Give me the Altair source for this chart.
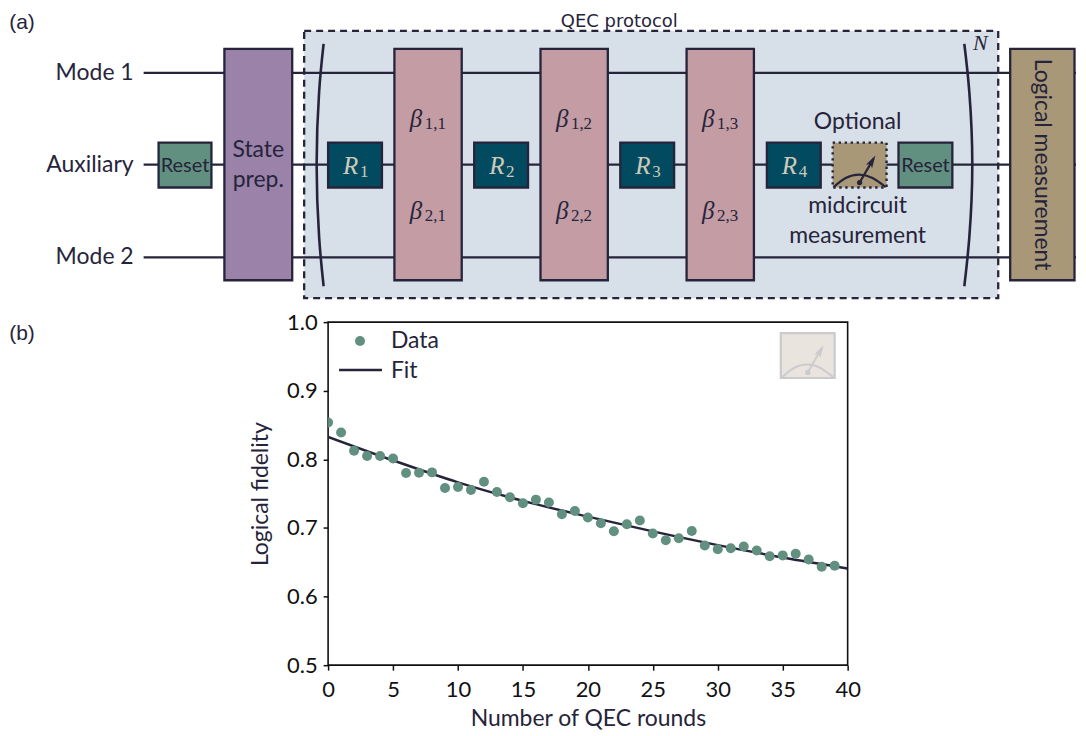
import altair as alt
import pandas as pd

# ---------- values of panel (b) ----------
rounds = list(range(40))
fidelity = [.8536, .839, .8125, .8048, .805, .8013, .780, .7805, .781, .7583,
            .7597, .7553, .7674, .7524, .7447, .736, .7413, .737, .7199, .7248,
            .7151, .7068, .6952, .7054, .7108, .6919, .6822, .685, .6957, .6744,
            .669, .6705, .673, .6672, .6589, .66, .6623, .654, .6434, .6449]
fit_x = [0, 5, 10, 15, 20, 25, 30, 35, 40]
fit_y = [.8328, .7985, .7665, .7395, .7165, .695, .675, .657, .641]
x_ticks = [0, 5, 10, 15, 20, 25, 30, 35, 40]
y_ticks = [.5, .6, .7, .8, .9, 1.0]

# ---------- colours ----------
INK = "#26243a"
GREEN = "#618f80"
TEAL = "#024a60"
PURPLE = "#9a82a9"
PINK = "#c39ca4"
TAN = "#a89878"
PANEL = "#d7dfe8"
CREAM = "#cfcab8"
FAINT = "#e9e5de"
FAINT_INK = "#cbcbcd"
FONT = "Lato"
TAG_FONT = "Liberation Sans"
HEAD_FONT = "DejaVu Sans"
SERIF = "Liberation Serif"
ARROW = "M0,-1L0.55,0.95L0,0.5L-0.55,0.95Z"

# ---------- schematic of panel (a), on a canvas scale ----------
W, H = 1070, 313
sx = alt.Scale(domain=[8, 1078], nice=False, zero=False)
sy = alt.Scale(domain=[321, 8], nice=False, zero=False)

wires = [("Mode 1", 71), ("Auxiliary", 163), ("Mode 2", 256)]
wire_span = (143, 1078)
gates_tall = [(224, 292, PURPLE), (394.5, 462, PINK), (541, 608.5, PINK),
              (687.5, 755, PINK), (1012, 1076.5, TAN)]
gates_small = [(158, 211, GREEN), (328, 382, TEAL), (474.5, 528.5, TEAL),
               (621, 675, TEAL), (768, 822, TEAL), (900, 954, GREEN)]
tall_y = (47, 279)
small_y = (141, 186)
meter_box = (834, 888)
qec_box = (304, 1000, 29, 297)
paren_left = [(323.5, 42), (319, 90), (316.5, 163), (319, 236), (323.5, 285)]
paren_right = [(966, 42), (971, 90), (974, 163), (971, 236), (966, 285)]
arc_pts = [(835, 185.5), (847, 176.5), (860.5, 173), (874, 176.5), (887, 185.5)]
needle = [(861, 181), (875, 157)]
needle_tip = (873.5, 159.5)
beta_cols = [(410, "1"), (556.5, "2"), (703, "3")]


def xa(field):
    return alt.X(field, scale=sx, axis=None)


def ya(field):
    return alt.Y(field, scale=sy, axis=None)


def rects(rows, y0, y1, **kw):
    df = pd.DataFrame(rows, columns=["a", "b", "fill"])
    df["c"], df["d"] = y0, y1
    return alt.Chart(df).mark_rect(**kw).encode(
        x=xa("a:Q"), x2="b:Q", y=ya("c:Q"), y2="d:Q",
        fill=alt.Fill("fill:N", scale=None))


def path(pts, ex, ey, color, width, interp="natural"):
    df = pd.DataFrame({"a": [p[0] for p in pts], "b": [p[1] for p in pts], "o": range(len(pts))})
    return alt.Chart(df).mark_line(color=color, strokeWidth=width, interpolate=interp, clip=False).encode(
        x=ex("a:Q"), y=ey("b:Q"), order="o:Q")


def words(rows, size, color=INK, font=FONT, style="normal", align="center",
          baseline="middle", angle=0, ex=xa, ey=ya):
    df = pd.DataFrame(rows, columns=["a", "b", "t"])
    return alt.Chart(df).mark_text(fontSize=size, color=color, font=font, fontStyle=style, align=align,
                                   baseline=baseline, angle=angle, clip=False).encode(
        x=ex("a:Q"), y=ey("b:Q"), text="t:N")


def dots(pt, ex, ey, color, size, **kw):
    df = pd.DataFrame({"a": [pt[0]], "b": [pt[1]]})
    return alt.Chart(df).mark_point(filled=True, color=color, size=size, opacity=1, **kw).encode(
        x=ex("a:Q"), y=ey("b:Q"))


wire_layers = [
    alt.Chart(pd.DataFrame({"a": [wire_span[0]], "b": [wire_span[1]], "c": [y]})).mark_rule(
        color=INK, strokeWidth=2.3).encode(x=xa("a:Q"), x2="b:Q", y=ya("c:Q"))
    for _, y in wires
]

beta_main, beta_sub = [], []
for xb, col in beta_cols:
    for row, yb in (("1", 125), ("2", 217.5)):
        beta_main.append((xb, yb, "β"))
        beta_sub.append((xb + 15, yb + 2, f"{row},{col}"))

r_main = [(343 + d, 172, "R") for d in (0, 146.5, 293, 440)]
r_sub = [(360 + d, 175, str(i + 1)) for i, d in enumerate((0, 146.5, 293, 440))]

stroke = dict(stroke=INK, strokeWidth=2.3)
top = alt.layer(
    rects([(qec_box[0], qec_box[1], PANEL)], qec_box[2], qec_box[3], stroke=INK, strokeWidth=2.3, strokeDash=[7, 5]),
    *wire_layers,
    rects(gates_tall, *tall_y, **stroke),
    rects(gates_small, *small_y, **stroke),
    rects([(meter_box[0], meter_box[1], TAN)], *small_y, stroke=INK, strokeWidth=2.4, strokeDash=[2.4, 3.6]),
    path(paren_left, xa, ya, INK, 2.6),
    path(paren_right, xa, ya, INK, 2.6),
    path(arc_pts, xa, ya, INK, 2.2),
    path(needle, xa, ya, INK, 2.2, "linear"),
    dots(needle[0], xa, ya, INK, 28),
    dots(needle_tip, xa, ya, INK, 170, shape=ARROW, angle=30),
    words([(133, y, n) for n, y in wires], 23, align="right"),
    words([(184.5, 164, "Reset"), (927, 164, "Reset")], 20),
    words([(258, 148, "State"), (258, 178, "prep.")], 23),
    words([(620, 19.6, "QEC protocol")], 18, font=HEAD_FONT),
    words([(21, 21, "(a)")], 21, font=TAG_FONT),
    words([(859, 120, "Optional"), (859, 205, "midcircuit"), (859, 235, "measurement")], 23),
    words([(1044, 163, "Logical measurement")], 23, angle=90),
    words(beta_main, 25, font=SERIF, style="italic", align="left", baseline="alphabetic"),
    words(beta_sub, 17, font=SERIF, align="left", baseline="alphabetic"),
    words(r_main, 25, color=CREAM, font=SERIF, style="italic", align="left", baseline="alphabetic"),
    words(r_sub, 17, color=CREAM, font=SERIF, align="left", baseline="alphabetic"),
    words([(982, 41, "N")], 22, font=SERIF, style="italic"),
).properties(width=W, height=H, view=alt.ViewBackground(stroke="transparent"))

# ---------- spacer that holds the (b) tag ----------
sx2 = alt.Scale(domain=[8, 328], nice=False, zero=False)
sy2 = alt.Scale(domain=[665, 321], nice=False, zero=False)
spacer = words([(21, 333, "(b)")], 21, font=TAG_FONT,
               ex=lambda f: alt.X(f, scale=sx2, axis=None),
               ey=lambda f: alt.Y(f, scale=sy2, axis=None)).properties(
    width=320, height=344, view=alt.ViewBackground(stroke="transparent"))

# ---------- panel (b) ----------
PW, PH = 521, 344
px = alt.Scale(domain=[0, 40], nice=False, zero=False)
py = alt.Scale(domain=[0.5, 1.0], nice=False, zero=False)
x_axis = alt.Axis(values=x_ticks, grid=False, domain=False, tickSize=5, tickWidth=1.5, tickColor="#111111",
                  labelFontSize=22, labelFont=FONT, labelColor="#111111", titleFontSize=23,
                  titleFont=FONT, titleColor=INK, titleFontWeight="normal", titlePadding=7,
                  labelPadding=9, labelFlush=False)
y_axis = alt.Axis(values=y_ticks, format=".1f", grid=False, domain=False, tickSize=5, tickWidth=1.5,
                  tickColor="#111111", labelFontSize=22, labelFont=FONT, labelColor="#111111",
                  titleFontSize=23, titleFont=FONT, titleColor=INK, titleFontWeight="normal",
                  titlePadding=14, labelPadding=6)


def xp(field):
    return alt.X(field, scale=px, axis=x_axis, title="Number of QEC rounds")


def yp(field):
    return alt.Y(field, scale=py, axis=y_axis, title="Logical fidelity")


def dx(p):
    return (p - 328) / PW * 40


def dy(p):
    return (665 - p) / PH * 0.5 + 0.5


fit_df = pd.DataFrame({"x": fit_x, "y": fit_y})
data_df = pd.DataFrame({"x": rounds, "y": fidelity})

fit = alt.Chart(fit_df).mark_line(color=INK, strokeWidth=2.5, clip=True, interpolate="monotone").encode(
    x=xp("x:Q"), y=yp("y:Q"))
points = alt.Chart(data_df).mark_circle(color=GREEN, size=100, opacity=1, clip=True).encode(
    x=xp("x:Q"), y=yp("y:Q"))

legend_point = alt.Chart(pd.DataFrame({"x": [dx(360)], "y": [dy(340)]})).mark_circle(
    color=GREEN, size=100, opacity=1).encode(x=xp("x:Q"), y=yp("y:Q"))
legend_line = alt.Chart(pd.DataFrame({"x": [dx(339)], "x2": [dx(382)], "y": [dy(369)]})).mark_rule(
    color=INK, strokeWidth=2.5).encode(x=xp("x:Q"), x2="x2:Q", y=yp("y:Q"))
legend_text = words([(dx(391), dy(340), "Data"), (dx(391), dy(370), "Fit")], 23, align="left", ex=xp, ey=yp)

inset_box = alt.Chart(pd.DataFrame({"a": [dx(782)], "b": [dx(836)], "c": [dy(332)], "d": [dy(377)]})).mark_rect(
    fill=FAINT, stroke=FAINT_INK, strokeWidth=2.2).encode(
    x=xp("a:Q"), x2="b:Q", y=yp("c:Q"), y2="d:Q")
inset_arc = [(783, 376.5), (795, 367), (808.5, 363.5), (822, 367), (835, 376.5)]
inset_needle = [(809, 371.5), (823, 347)]
inset_tip = (821.5, 350)
inset_layers = [
    inset_box,
    path([(dx(a), dy(b)) for a, b in inset_arc], xp, yp, FAINT_INK, 2),
    path([(dx(a), dy(b)) for a, b in inset_needle], xp, yp, FAINT_INK, 2, "linear"),
    dots((dx(inset_needle[0][0]), dy(inset_needle[0][1])), xp, yp, FAINT_INK, 28),
    dots((dx(inset_tip[0]), dy(inset_tip[1])), xp, yp, FAINT_INK, 170, shape=ARROW, angle=30),
]

plot = alt.layer(fit, points, *inset_layers, legend_point, legend_line, legend_text).properties(
    width=PW, height=PH, view=alt.ViewBackground(stroke="#111111", strokeWidth=1.6))

chart = alt.vconcat(
    top,
    alt.hconcat(spacer, plot, spacing=0, bounds="flush"),
    spacing=0, bounds="flush",
).properties(padding=0).configure_view(fill="white")

chart.save("out.html", embed_options={"renderer": "svg", "actions": False})
